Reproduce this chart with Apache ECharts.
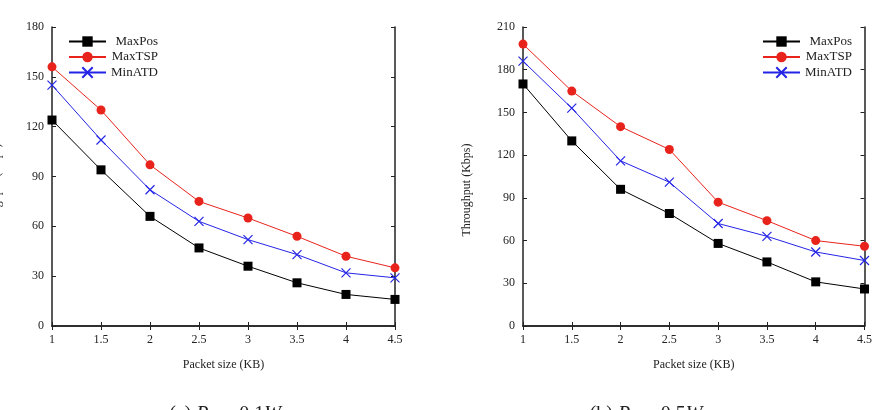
<!DOCTYPE html>
<html>
<head>
<meta charset="utf-8">
<script src="https://cdn.jsdelivr.net/npm/echarts@6/dist/echarts.min.js"></script>
<style>
  html, body { margin: 0; padding: 0; background: #fff; }
  #chart { width: 875px; height: 410px; }
</style>
</head>
<body>
<div id="chart"></div>
<script>
var chart = echarts.init(document.getElementById('chart'));

// packet sizes (KB)
var packetSizes = [1, 1.5, 2, 2.5, 3, 3.5, 4, 4.5];

// (a) Ptx = 0.1W
var maxPosA = [124, 94, 66, 47, 36, 26, 19, 16];
var maxTspA = [156, 130, 97, 75, 65, 54, 42, 35];
var minAtdA = [145, 112, 82, 63, 52, 43, 32, 29];

// (b) Ptx = 0.5W
var maxPosB = [170, 130, 96, 79, 58, 45, 31, 26];
var maxTspB = [198, 165, 140, 124, 87, 74, 60, 56];
var minAtdB = [186, 153, 116, 101, 72, 63, 52, 46];

var seriesNames = ['MaxPos', 'MaxTSP', 'MinATD'];
var xLabel = 'Packet size (KB)';
var yLabel = 'Throughput (Kbps)';

var font = 'Liberation Serif';
var axisColor = '#222';
var crossPath = 'path://M0,0L10,10M10,0L0,10';

function pairs(ys) {
  return packetSizes.map(function (x, i) { return [x, ys[i]]; });
}

function axesFor(gridIndex, yMax) {
  var lineStyle = { color: axisColor, width: 1.5 };
  var tick = { show: true, inside: true, length: 4, lineStyle: { color: axisColor, width: 1 } };
  var label = { color: '#222', fontFamily: font, fontSize: 12, margin: 8 };
  return {
    x: [
      {
        type: 'value', gridIndex: gridIndex, min: 1, max: 4.5, interval: 0.5,
        name: xLabel, nameLocation: 'middle', nameGap: 33,
        nameTextStyle: { color: '#222', fontFamily: font, fontSize: 12 },
        axisLine: { show: true, lineStyle: lineStyle }, axisTick: tick,
        axisLabel: label, splitLine: { show: false }
      },
      {
        type: 'value', gridIndex: gridIndex, position: 'top', min: 1, max: 4.5, interval: 0.5,
        axisLine: { show: true, lineStyle: lineStyle }, axisTick: tick,
        axisLabel: { show: false }, splitLine: { show: false }
      }
    ],
    y: [
      {
        type: 'value', gridIndex: gridIndex, min: 0, max: yMax, interval: 30,
        axisLine: { show: true, lineStyle: lineStyle }, axisTick: tick,
        axisLabel: label, splitLine: { show: false }
      },
      {
        type: 'value', gridIndex: gridIndex, position: 'right', min: 0, max: yMax, interval: 30,
        axisLine: { show: true, lineStyle: lineStyle }, axisTick: tick,
        axisLabel: { show: false }, splitLine: { show: false }
      }
    ]
  };
}

var a = axesFor(0, 180);
var b = axesFor(1, 210);

function lineSeries(name, data, axisIdx, color, symbol, size) {
  return {
    name: name, type: 'line', xAxisIndex: axisIdx, yAxisIndex: axisIdx,
    data: pairs(data), symbol: symbol, symbolSize: size,
    lineStyle: { color: color, width: 1 },
    itemStyle: { color: color, borderColor: color, borderWidth: symbol === crossPath ? 1.2 : 0 },
    emphasis: { disabled: true }, animation: false
  };
}

var legendText = {
  fontFamily: font, fontSize: 13, color: '#222',
  rich: { r: { width: 47, align: 'right', fontFamily: font, fontSize: 13, color: '#222' } }
};

function legendAt(left) {
  return {
    orient: 'vertical', left: left, top: 35, padding: 0,
    itemWidth: 37, itemHeight: 13, itemGap: 2.5,
    formatter: '{r|{name}}', textStyle: legendText,
    data: seriesNames.map(function (n) { return { name: n }; })
  };
}

function caption(x, label, power) {
  return {
    type: 'text', x: x, y: 405,
    style: {
      text: label + ' {i|P}{s|tx} = ' + power + '{i|W}', fontFamily: font, fontSize: 20, fill: '#222',
      align: 'center', verticalAlign: 'top',
      rich: {
        i: { fontStyle: 'italic', fontFamily: font, fontSize: 20 },
        s: { fontStyle: 'italic', fontFamily: font, fontSize: 13, verticalAlign: 'bottom' }
      }
    }
  };
}

option = {
  backgroundColor: '#fff',
  grid: [
    { left: 52, right: 480, top: 27, bottom: 84 },
    { left: 523, right: 9, top: 27, bottom: 84 }
  ],
  xAxis: a.x.concat(b.x),
  yAxis: a.y.concat(b.y),
  legend: [legendAt(68), legendAt(762)],
  series: [
    lineSeries('MaxPos', maxPosA, 0, '#000', 'rect', 9),
    lineSeries('MaxTSP', maxTspA, 0, '#e8231c', 'circle', 9),
    lineSeries('MinATD', minAtdA, 0, '#2424e6', crossPath, 9),
    lineSeries('MaxPos', maxPosB, 2, '#000', 'rect', 9),
    lineSeries('MaxTSP', maxTspB, 2, '#e8231c', 'circle', 9),
    lineSeries('MinATD', minAtdB, 2, '#2424e6', crossPath, 9)
  ],
  graphic: [
    {
      type: 'text', x: 467, y: 190, rotation: Math.PI / 2,
      style: { text: yLabel, fontFamily: font, fontSize: 12, fill: '#222', align: 'center', verticalAlign: 'middle' }
    },
    {
      type: 'text', x: -3, y: 190, rotation: Math.PI / 2,
      style: { text: yLabel, fontFamily: font, fontSize: 12, fill: '#222', align: 'center', verticalAlign: 'middle' }
    },
    caption(225, '(a)', '0.1'),
    caption(646, '(b)', '0.5')
  ]
};

chart.setOption(option);
</script>
</body>
</html>
